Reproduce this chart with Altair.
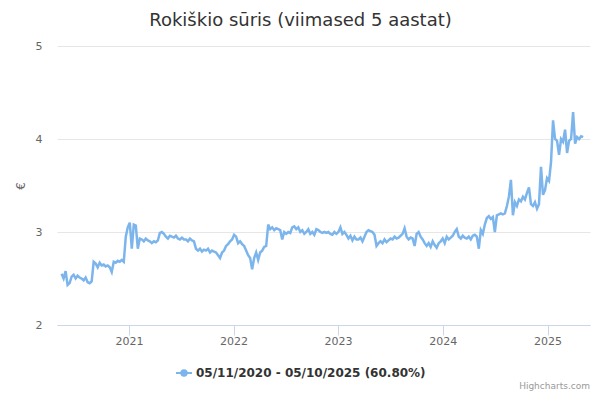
import altair as alt
import pandas as pd

# Weekly closing prices (EUR), starting 2020-05-11
start_date = "2020-05-11"
values = [
    2.55, 2.50, 2.58, 2.43, 2.45,
    2.52, 2.54, 2.50, 2.53, 2.51,
    2.50, 2.48, 2.51,
    2.46, 2.45, 2.47,
    2.68,
    2.66, 2.62, 2.67, 2.64, 2.65, 2.63, 2.64, 2.62,
    2.57,
    2.68, 2.67, 2.69, 2.68, 2.70, 2.68,
    2.95, 3.05, 3.10, 2.82, 3.08, 3.07, 2.82,
    2.93, 2.92, 2.90, 2.93, 2.91,
    2.90, 2.88, 2.90, 2.89, 2.91,
    2.99, 3.00, 2.98,
    2.95, 2.93, 2.96, 2.95, 2.94, 2.96, 2.93, 2.92, 2.94, 2.92,
    2.92, 2.90, 2.93, 2.91, 2.90,
    2.82,
    2.80, 2.82, 2.79, 2.81, 2.80, 2.82, 2.78, 2.80, 2.79,
    2.78, 2.75, 2.72, 2.78,
    2.80, 2.85, 2.87, 2.90,
    2.92, 2.97, 2.95,
    2.88, 2.90, 2.87,
    2.85, 2.80, 2.75, 2.72,
    2.60,
    2.72, 2.78, 2.70, 2.78,
    2.80, 2.84, 2.85,
    3.08,
    3.03, 3.05, 3.02, 3.04, 3.03, 3.02,
    2.92,
    3.00, 2.98, 3.00, 2.99,
    3.05, 3.06, 3.03, 3.05, 3.00,
    3.02, 2.98, 3.00, 3.03, 2.98, 3.00, 2.97,
    3.03, 3.02, 3.00, 2.99, 3.00, 2.99, 3.00, 2.98,
    2.97, 3.00, 2.98, 3.00,
    3.05,
    2.98, 3.00, 2.97,
    2.93, 2.96, 2.91, 2.95, 2.92,
    2.92, 2.94, 2.90, 2.95,
    3.00, 3.02, 3.01, 3.00,
    2.97, 2.85, 2.88,
    2.90, 2.88, 2.92, 2.89, 2.91,
    2.93, 2.92, 2.95, 2.93, 2.94, 2.96,
    2.98, 3.04,
    2.95, 2.92, 2.94, 2.93,
    2.85,
    2.98, 3.00,
    2.95, 2.92, 2.88,
    2.85, 2.88, 2.84, 2.90, 2.86, 2.83, 2.88,
    2.90, 2.93, 2.88, 2.95, 2.92, 2.94, 2.96,
    3.00, 3.03,
    2.95, 2.93, 2.96, 2.94, 2.93, 2.95, 2.92, 2.96,
    2.97, 2.95,
    2.82,
    3.02, 2.98,
    3.08, 3.15, 3.17, 3.14, 3.16,
    3.00,
    3.18, 3.19, 3.20, 3.19, 3.20,
    3.28, 3.38, 3.56, 3.18,
    3.32, 3.28, 3.35, 3.33,
    3.38, 3.35, 3.42,
    3.48, 3.30,
    3.28, 3.32, 3.25, 3.30,
    3.70,
    3.40, 3.45, 3.58, 3.55,
    3.75, 4.20,
    4.00, 3.98, 3.83,
    4.00, 3.97,
    4.10, 3.85,
    3.98, 4.00,
    4.29, 3.95,
    4.02, 4.00, 4.03, 4.02,
]
dates = pd.date_range(start_date, periods=len(values), freq="7D")

y_ticks = [2, 3, 4, 5]
x_domain = ["2020-04-25", "2025-05-29"]
title_text = "Rokiškio sūris (viimased 5 aastat)"
legend_text = "05/11/2020 - 05/10/2025 (60.80%)"
credits_text = "Highcharts.com"

df = pd.DataFrame({"date": dates, "price": values})

LINE_COLOR = "#7cb5ec"
FONT = "DejaVu Sans"
W, H = 533, 279

line = alt.Chart(df).mark_line(color=LINE_COLOR, strokeWidth=2.5).encode(
    x=alt.X(
        "date:T",
        scale=alt.Scale(domain=x_domain, nice=False),
        axis=alt.Axis(
            title=None,
            format="%Y",
            tickCount={"interval": "year", "step": 1},
            labelFont=FONT,
            labelFontSize=11,
            labelColor="#666666",
            domainColor="#ccd6eb",
            tickColor="#ccd6eb",
            tickSize=10,
            labelPadding=0,
            grid=False,
            labelFlush=False,
        ),
    ),
    y=alt.Y(
        "price:Q",
        scale=alt.Scale(domain=[2, 5], nice=False, zero=False),
        axis=alt.Axis(
            values=y_ticks,
            format="d",
            title="€",
            titleFont=FONT,
            titleFontSize=12,
            titleFontWeight="normal",
            titleColor="#666666",
            titleAngle=-90,
            titleX=-37,
            titleY=H / 2,
            titleAlign="center",
            titleBaseline="middle",
            labelFont=FONT,
            labelFontSize=11,
            labelColor="#666666",
            labelPadding=15,
            domain=False,
            ticks=False,
            gridColor="#e6e6e6",
        ),
    ),
)

one = alt.Data(values=[{"k": 1}])

legend_line = alt.Chart(one).mark_rule(color=LINE_COLOR, strokeWidth=2).encode(
    x=alt.value(119), x2=alt.value(135), y=alt.value(327)
)
legend_dot = alt.Chart(one).mark_point(
    filled=True, color=LINE_COLOR, size=55, opacity=1, shape="circle"
).encode(x=alt.value(127), y=alt.value(327))
legend_label = alt.Chart(one).mark_text(
    font=FONT, fontSize=12, fontWeight="bold", color="#333333",
    align="left", baseline="middle",
).encode(x=alt.value(139), y=alt.value(327), text=alt.value(legend_text))
credits = alt.Chart(one).mark_text(
    font=FONT, fontSize=9, color="#999999", align="right", baseline="middle",
).encode(x=alt.value(W), y=alt.value(340), text=alt.value(credits_text))

chart = (
    alt.layer(line, legend_line, legend_dot, legend_label, credits)
    .properties(
        width=W,
        height=H,
        background="white",
        autosize=alt.AutoSizeParams(type="none"),
        padding={"left": 49, "top": 38, "right": 2, "bottom": 67},
        title=alt.TitleParams(
            text=title_text,
            font=FONT,
            fontSize=18,
            fontWeight="normal",
            color="#333333",
            anchor="middle",
            dx=-23,
            offset=10,
        ),
    )
    .configure_view(stroke=None, strokeWidth=0)
)

chart.save("out.html", embed_options={"renderer": "svg", "actions": False})
